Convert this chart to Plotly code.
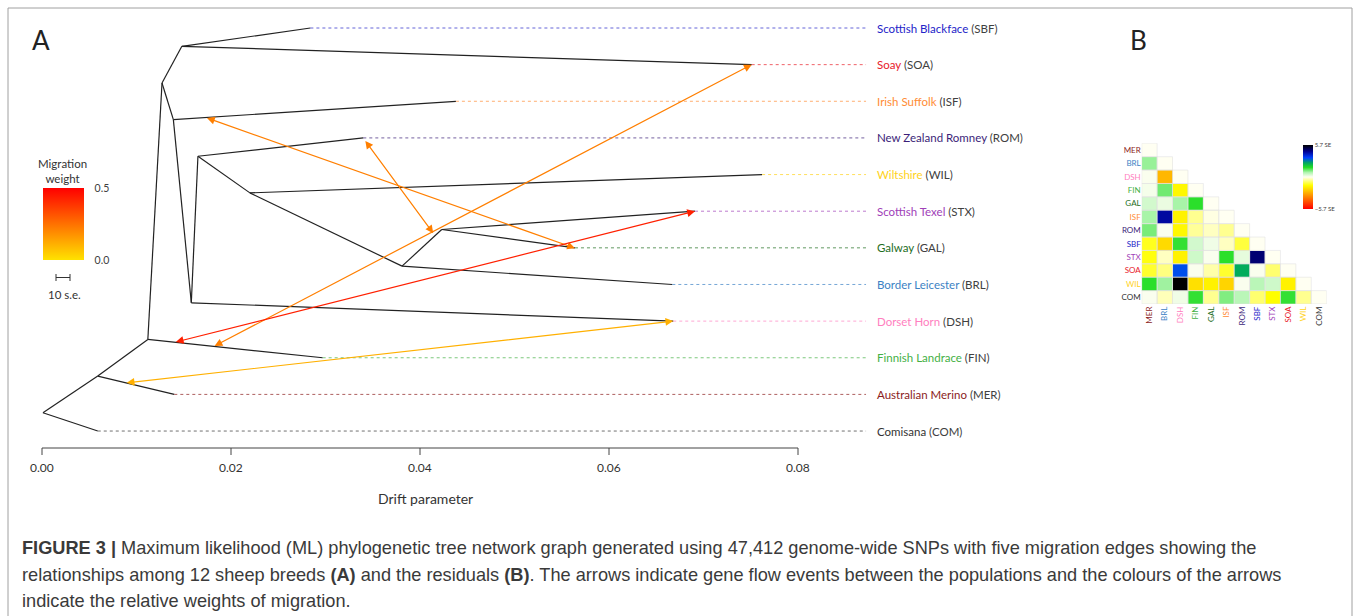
import plotly.graph_objects as go
from plotly.colors import find_intermediate_color, hex_to_rgb, label_rgb

W, H = 1355, 616

# ---------------- data: tree (A) ----------------
leaf_codes = ['SBF', 'SOA', 'ISF', 'ROM', 'WIL', 'STX', 'GAL', 'BRL', 'DSH', 'FIN', 'MER', 'COM']
leaf_names = ['Scottish Blackface', 'Soay', 'Irish Suffolk', 'New Zealand Romney', 'Wiltshire',
              'Scottish Texel', 'Galway', 'Border Leicester', 'Dorset Horn', 'Finnish Landrace',
              'Australian Merino', 'Comisana']
leaf_colors = ['#2323C8', '#E8202A', '#FF8C35', '#3B1E78', '#FFD21A', '#A040B8',
               '#1E6E1E', '#3C82C4', '#FF80C0', '#44B044', '#8B1C1C', '#333333']
leaf_drift = [0.0284, 0.0751, 0.0438, 0.0340, 0.0762, 0.0691, 0.0564, 0.0667, 0.0668, 0.0297, 0.0140, 0.0059]
leaf_pos = [0, 1, 2, 3, 4, 5, 6, 7, 8, 9, 10, 11]

node_ids = ['R', 'A', 'B', 'C', 'D', 'E', 'F', 'G', 'H', 'I', 'J']
node_drift = [0.0001, 0.0059, 0.0112, 0.0127, 0.0148, 0.0139, 0.0158, 0.0165, 0.0220, 0.0381, 0.0423]
node_pos = [10.5, 9.5, 8.5, 1.5, 0.5, 2.5, 7.5, 3.5, 4.5, 6.5, 5.5]

edge_parent = ['R', 'R', 'A', 'A', 'B', 'B', 'C', 'C', 'D', 'D', 'E', 'E', 'F', 'F', 'G', 'G', 'H', 'H', 'I', 'I', 'J', 'J']
edge_child = ['COM', 'A', 'MER', 'B', 'FIN', 'C', 'D', 'E', 'SBF', 'SOA', 'ISF', 'F', 'G', 'DSH', 'ROM', 'H', 'WIL', 'I', 'J', 'BRL', 'STX', 'GAL']

# migration edges (drift, position) at both ends and weights
mig_x0 = [0.0173, 0.0341, 0.0181, 0.0140, 0.0088]
mig_y0 = [2.44, 3.04, 8.70, 8.58, 9.69]
mig_x1 = [0.0564, 0.0414, 0.0751, 0.0691, 0.0668]
mig_y1 = [6.01, 5.60, 1.00, 5.00, 8.00]
mig_weight = [0.22, 0.22, 0.22, 0.43, 0.11]

drift_ticks = [0.00, 0.02, 0.04, 0.06, 0.08]
label_drift = 0.0882
dot_end_drift = 0.0872

# ---------------- data: residuals (B) ----------------
res_codes = ['MER', 'BRL', 'DSH', 'FIN', 'GAL', 'ISF', 'ROM', 'SBF', 'STX', 'SOA', 'WIL', 'COM']
res_colors = ['#8B1C1C', '#3C82C4', '#FF80C0', '#44B044', '#1E6E1E', '#FF8C35',
              '#3B1E78', '#2323C8', '#A040B8', '#E8202A', '#FFD21A', '#333333']
res_rows = [
    [0],
    [0.95, 0],
    [0.05, -2.7, 0],
    [0.1, 1.2, -1.6, 0],
    [0.45, 0.2, 0.85, 1.65, 0],
    [0.85, 4.4, -1.7, -0.6, -0.1, 0],
    [1.15, 0.05, -1.6, -0.55, -0.3, -0.6, 0],
    [-1.3, -2.1, 1.6, 0.45, 0.15, -0.3, -1.1, 0],
    [-1.4, -0.3, -1.7, 0.5, 0.05, 1.65, 0.25, 4.8, 0],
    [-1.2, -0.7, 3.3, 0.05, -0.45, -1.2, 2.45, 0.05, -0.8, 0],
    [1.65, 0.9, 5.7, -2.0, -1.7, -2.2, 0.05, 0.7, 0.5, -1.7, 0],
    [0.05, -0.35, 0.15, 1.6, -0.6, 1.1, 0.7, -0.8, -1.5, 1.6, -0.6, 0],
]
res_limit = 5.7

# ---------------- helpers ----------------
def px_x(p):
    return p / W

def px_y(p):
    return 1 - p / H

mig_scale = [[0.0, '#FFE200'], [1.0, '#FF0000']]
def mig_color(w):
    t = w / 0.5
    c = find_intermediate_color(hex_to_rgb('#FFE200'), hex_to_rgb('#FF0000'), t)
    return label_rgb(tuple(int(round(v)) for v in c))

res_scale = [[0.0, '#FF0000'], [0.2, '#FF8C00'], [0.37, '#FFFF00'], [0.5, '#FFFFF2'],
             [0.57, '#B0F5B0'], [0.65, '#22DD22'], [0.72, '#00A860'], [0.8, '#0040FF'],
             [0.9, '#000090'], [1.0, '#000000']]

coords = {}
for c, d, p in zip(leaf_codes, leaf_drift, leaf_pos):
    coords[c] = (d, p)
for nid, d, p in zip(node_ids, node_drift, node_pos):
    coords[nid] = (d, p)

FONT = 'Lato'
fig = go.Figure()

# tree branches
tx, ty = [], []
for pa, ch in zip(edge_parent, edge_child):
    tx += [coords[pa][0], coords[ch][0], None]
    ty += [coords[pa][1], coords[ch][1], None]
fig.add_trace(go.Scatter(x=tx, y=ty, mode='lines', line=dict(color='#222222', width=1.2),
                         hoverinfo='skip', showlegend=False))

# dotted leader lines
def rgba(hexc, a):
    r, g, b = hex_to_rgb(hexc)
    return f'rgba({r},{g},{b},{a})'

for c, d, p, col in zip(leaf_codes, leaf_drift, leaf_pos, leaf_colors):
    fig.add_trace(go.Scatter(x=[d, dot_end_drift], y=[p, p], mode='lines',
                             line=dict(color=rgba(col, 0.7), width=1, dash='dot'),
                             hoverinfo='skip', showlegend=False))

annotations = []
def note(x, y, text, size, color='#333333', family=FONT, xanchor='center', yanchor='middle',
         xref='paper', yref='paper'):
    annotations.append(dict(x=x, y=y, xref=xref, yref=yref, xanchor=xanchor, yanchor=yanchor,
                            text=text, showarrow=False, font=dict(family=family, size=size, color=color)))

for c, nm, p, col in zip(leaf_codes, leaf_names, leaf_pos, leaf_colors):
    note(label_drift, p, f"<span style='color:{col}'>{nm}</span> ({c})", 11.5, color='#404040',
         xanchor='left', xref='x', yref='y')

# migration arrows
for x0, y0, x1, y1, w in zip(mig_x0, mig_y0, mig_x1, mig_y1, mig_weight):
    annotations.append(dict(x=x1, y=y1, ax=x0, ay=y0, xref='x', yref='y', axref='x', ayref='y',
                            text='', showarrow=True, arrowside='end+start', arrowhead=2,
                            arrowsize=1.3, arrowwidth=1.2, arrowcolor=mig_color(w),
                            standoff=0, startstandoff=0))

# invisible trace carrying the migration weight colour bar
fig.add_trace(go.Scatter(x=mig_x1, y=mig_y1, mode='markers', hoverinfo='skip', showlegend=False,
                         marker=dict(size=1, opacity=0, color=mig_weight, cmin=0, cmax=0.5,
                                     colorscale=mig_scale, showscale=True,
                                     colorbar=dict(x=px_x(42.5), xanchor='left', y=px_y(224), yanchor='middle',
                                                   len=72, lenmode='pixels', thickness=41, thicknessmode='pixels',
                                                   outlinewidth=0, xpad=0, ypad=0,
                                                   tickvals=[0, 0.5], ticktext=['0.0', '0.5'],
                                                   ticks='outside', ticklen=9, tickcolor='rgba(0,0,0,0)',
                                                   tickfont=dict(family=FONT, size=10.5, color='#404040')))))

# residual heatmap
n = len(res_codes)
z = [[(res_rows[i][j] if j <= i else None) for j in range(n)] for i in range(n)]
fig.add_trace(go.Heatmap(z=z, x=list(range(n)), y=list(range(n)), xaxis='x2', yaxis='y2',
                         colorscale=res_scale, zmin=-res_limit, zmax=res_limit, hoverongaps=False,
                         colorbar=dict(x=px_x(1303), xanchor='left', y=px_y(177), yanchor='middle',
                                       len=64, lenmode='pixels', thickness=10, thicknessmode='pixels',
                                       outlinewidth=0, xpad=0, ypad=0,
                                       tickvals=[-res_limit, res_limit],
                                       ticktext=['\u22125.7 SE', '5.7 SE'], ticks='',
                                       tickfont=dict(family=FONT, size=6, color='#404040'))))

shapes = []
for i in range(n):
    for j in range(i + 1):
        shapes.append(dict(type='rect', xref='x2', yref='y2', x0=j - 0.5, x1=j + 0.5, y0=i - 0.5, y1=i + 0.5,
                           line=dict(color='#E2E2E2', width=0.6), layer='above'))

# drift axis (R-style axis drawn between first and last tick)
shapes.append(dict(type='line', xref='x', yref='paper', x0=drift_ticks[0], x1=drift_ticks[-1],
                   y0=px_y(448), y1=px_y(448), line=dict(color='#444444', width=1)))
for t in drift_ticks:
    shapes.append(dict(type='line', xref='x', yref='paper', x0=t, x1=t, y0=px_y(448), y1=px_y(455),
                       line=dict(color='#444444', width=1)))
    note(t, px_y(467), f'{t:.2f}', 12, xref='x')
note(px_x(425), px_y(498), 'Drift parameter', 14)

# legend text and scale bar
note(px_x(62), px_y(170.5), 'Migration<br>weight', 11.5)
shapes.append(dict(type='line', xref='paper', yref='paper', x0=px_x(56), x1=px_x(70),
                   y0=px_y(277.5), y1=px_y(277.5), line=dict(color='#333333', width=1)))
for xe in (56, 70):
    shapes.append(dict(type='line', xref='paper', yref='paper', x0=px_x(xe), x1=px_x(xe),
                       y0=px_y(274), y1=px_y(281), line=dict(color='#333333', width=1)))
note(px_x(64), px_y(294), '10 s.e.', 11.5)

# panel letters
note(px_x(30), px_y(40), 'A', 26, color='#222222', xanchor='left')
note(px_x(1128), px_y(40), 'B', 26, color='#222222', xanchor='left')

# caption
cap_lines = [
    "<b>FIGURE 3 |</b> Maximum likelihood (ML) phylogenetic tree network graph generated using 47,412 genome-wide SNPs with five migration edges showing the",
    "relationships among 12 sheep breeds <b>(A)</b> and the residuals <b>(B)</b>. The arrows indicate gene flow events between the populations and the colours of the arrows",
    "indicate the relative weights of migration.",
]
for k, line in enumerate(cap_lines):
    note(px_x(20), px_y(548 + 26.5 * k), line, 18.2, color='#3A3A3A', family='Liberation Sans', xanchor='left')

# outer frame
shapes.append(dict(type='rect', xref='paper', yref='paper', x0=px_x(8), x1=px_x(1352), y0=-0.05, y1=px_y(8),
                   line=dict(color='#A0A0A0', width=1), layer='below'))

sc = 9450.0
fig.update_layout(
    width=W, height=H, margin=dict(l=0, r=0, t=0, b=0),
    paper_bgcolor='white', plot_bgcolor='white', showlegend=False,
    xaxis=dict(domain=[0, 1], range=[-42 / sc, (W - 42) / sc], visible=False, fixedrange=True),
    yaxis=dict(domain=[0, 1], range=[(H - 28) / 36.64, -28 / 36.64], visible=False, fixedrange=True),
    xaxis2=dict(domain=[px_x(1141.7), px_x(1326.7)], anchor='y2', range=[-0.5, n - 0.5],
                tickmode='array', tickvals=list(range(n)),
                ticktext=[f"<span style='color:{c}'>{t}</span>" for t, c in zip(res_codes, res_colors)],
                tickangle=-90, tickfont=dict(family=FONT, size=8), showgrid=False, zeroline=False,
                showline=False, ticks='', fixedrange=True),
    yaxis2=dict(domain=[px_y(304), px_y(143.3)], anchor='x2', range=[n - 0.5, -0.5],
                tickmode='array', tickvals=list(range(n)),
                ticktext=[f"<span style='color:{c}'>{t}</span>" for t, c in zip(res_codes, res_colors)],
                tickfont=dict(family=FONT, size=8), showgrid=False, zeroline=False, showline=False, ticks='',
                fixedrange=True),
    shapes=shapes, annotations=annotations,
)

fig.write_html('out.html', config={'displayModeBar': False},
               post_script="document.body.style.margin='0px';document.body.style.overflow='hidden';")
